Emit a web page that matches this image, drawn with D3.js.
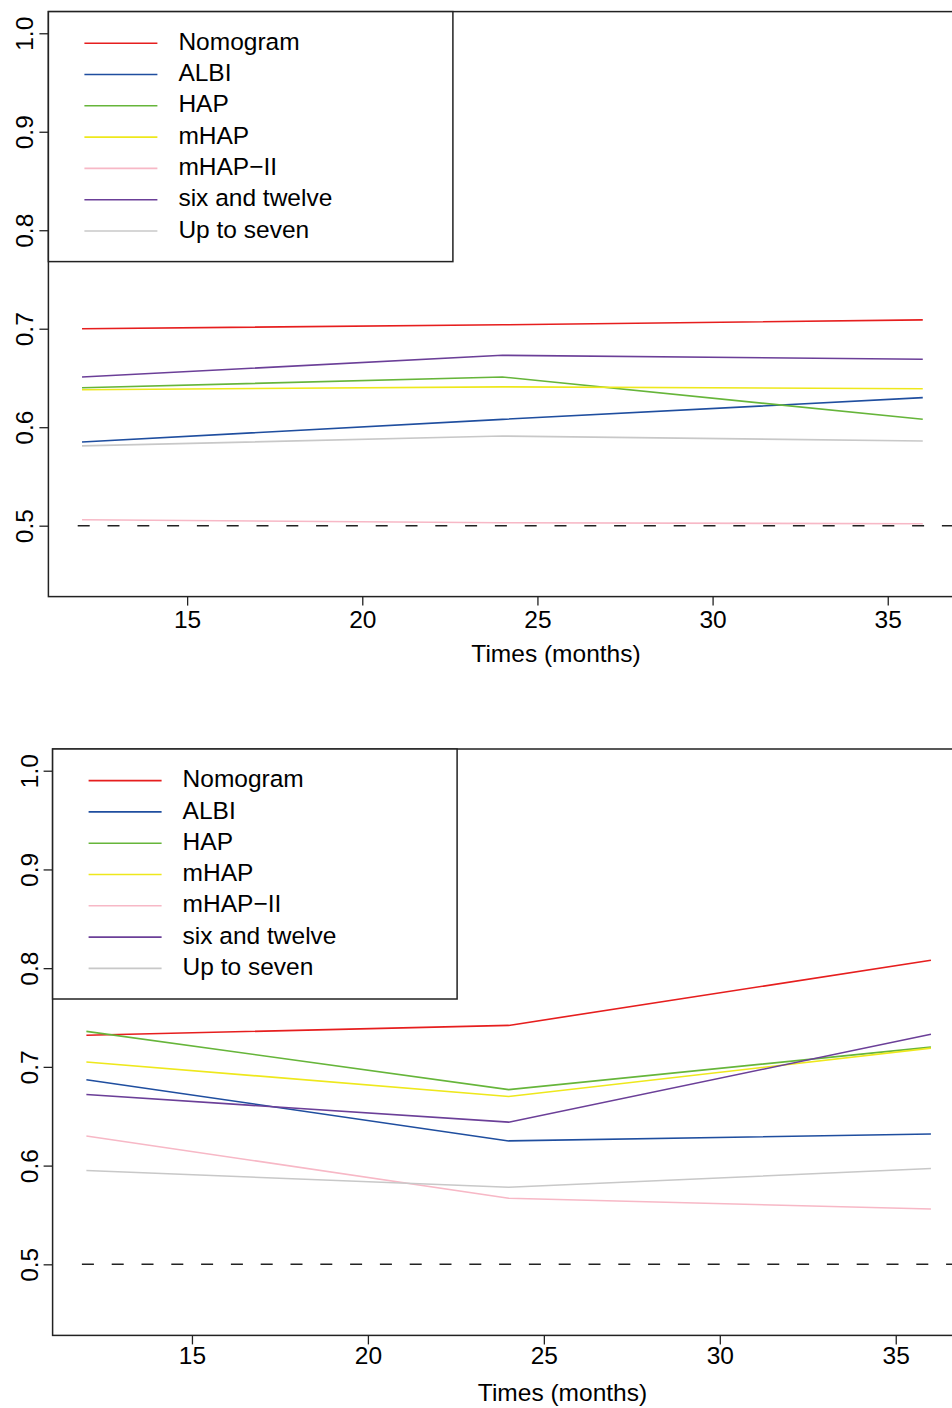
<!DOCTYPE html>
<html>
<head>
<meta charset="utf-8">
<script src="https://cdn.jsdelivr.net/npm/d3@7"></script>
<style>
  body { margin: 0; background: #fff; }
  svg { display: block; font-family: "Liberation Sans", Arial, sans-serif; }
</style>
</head>
<body>
<div id="chart"></div>
<script>
// time points (months)
const times = [12, 24, 36];
const xTicks = [15, 20, 25, 30, 35];
const yTicks = [0.5, 0.6, 0.7, 0.8, 0.9, 1.0];

const modelNames = ["Nomogram", "ALBI", "HAP", "mHAP", "mHAP\u2212II", "six and twelve", "Up to seven"];
const modelColors = ["#E61E1E", "#1F4E9F", "#66B53A", "#EEE81C", "#F7B8C6", "#6B3F98", "#C8C8C8"];

// time-dependent AUC, upper panel (same order as modelNames)
const aucTop = [
  [0.700, 0.704, 0.709],
  [0.585, 0.608, 0.630],
  [0.640, 0.651, 0.608],
  [0.638, 0.641, 0.639],
  [0.506, 0.503, 0.502],
  [0.651, 0.673, 0.669],
  [0.581, 0.591, 0.586],
];

// time-dependent AUC, lower panel
const aucBottom = [
  [0.732, 0.742, 0.808],
  [0.687, 0.625, 0.632],
  [0.736, 0.677, 0.720],
  [0.705, 0.670, 0.719],
  [0.630, 0.567, 0.556],
  [0.672, 0.644, 0.733],
  [0.595, 0.578, 0.597],
];

const width = 952;
const height = 1408;
const fontSize = 24.5;

const svg = d3
  .select("#chart")
  .append("svg")
  .attr("width", width)
  .attr("height", height);

svg.append("rect").attr("width", width).attr("height", height).attr("fill", "#fff");

function drawPanel(values, box) {
  const xScale = d3
    .scaleLinear()
    .domain([11.04, 40.02])
    .range([box.left, box.right]);

  const yScale = d3
    .scaleLinear()
    .domain([0.428, 1.022])
    .range([box.bottom, box.top]);

  const g = svg.append("g");

  // reference line at 0.5
  g.append("line")
    .attr("x1", xScale.range()[0] + 29.3)
    .attr("x2", xScale.range()[1])
    .attr("y1", yScale(0.5))
    .attr("y2", yScale(0.5))
    .attr("stroke", "#222")
    .attr("stroke-width", 1.5)
    .attr("stroke-dasharray", "12,17.8");

  // curves
  const line = d3
    .line()
    .x((d, i) => xScale(times[i]))
    .y((d) => yScale(d));

  values.forEach((series, k) => {
    g.append("path")
      .datum(series)
      .attr("fill", "none")
      .attr("stroke", modelColors[k])
      .attr("stroke-width", 1.6)
      .attr("d", line);
  });

  // Axis

  const xAxis = g
    .append("g")
    .attr("transform", `translate(0, ${box.bottom})`)
    .call(
      d3.axisBottom(xScale).tickValues(xTicks).tickSize(9).tickPadding(box.pad)
    );
  xAxis.select(".domain").remove();
  xAxis.selectAll("line").attr("stroke", "#222").attr("stroke-width", 1.3);
  xAxis
    .selectAll("text")
    .attr("font-size", fontSize)
    .attr("font-family", "Liberation Sans, Arial, sans-serif")
    .attr("fill", "#000");

  const yAxis = g
    .append("g")
    .attr("transform", `translate(${box.left}, 0)`)
    .call(
      d3
        .axisLeft(yScale)
        .tickValues(yTicks)
        .tickSize(9)
        .tickFormat(d3.format(".1f"))
    );
  yAxis.select(".domain").remove();
  yAxis.selectAll("line").attr("stroke", "#222").attr("stroke-width", 1.3);
  yAxis
    .selectAll("text")
    .attr("x", 0)
    .attr("y", -15)
    .attr("dy", null)
    .attr("transform", "rotate(-90)")
    .attr("text-anchor", "middle")
    .attr("font-size", fontSize)
    .attr("font-family", "Liberation Sans, Arial, sans-serif")
    .attr("fill", "#000");

  // plot box
  g.append("rect")
    .attr("x", box.left)
    .attr("y", box.top)
    .attr("width", box.right - box.left)
    .attr("height", box.bottom - box.top)
    .attr("fill", "none")
    .attr("stroke", "#222")
    .attr("stroke-width", 1.5);

  g.append("text")
    .attr("x", (box.left + box.right) / 2)
    .attr("y", box.bottom + box.titleGap)
    .attr("text-anchor", "middle")
    .attr("font-size", fontSize)
    .attr("fill", "#000")
    .text("Times (months)");

  // Legend

  const legend = g
    .append("g")
    .attr("transform", `translate(${box.left}, ${box.top})`);

  legend
    .append("rect")
    .attr("width", 404.5)
    .attr("height", 250)
    .attr("fill", "#fff")
    .attr("stroke", "#222")
    .attr("stroke-width", 1.5);

  const rows = legend
    .selectAll(".row")
    .data(modelNames)
    .enter()
    .append("g")
    .attr("transform", (d, i) => `translate(0, ${31.6 + i * 31.3})`);

  rows
    .append("line")
    .attr("x1", 36)
    .attr("x2", 109)
    .attr("stroke", (d, i) => modelColors[i])
    .attr("stroke-width", 1.6);

  rows
    .append("text")
    .attr("x", 130)
    .attr("y", 6.6)
    .attr("font-size", fontSize)
    .attr("fill", "#000")
    .text((d) => d);
}

drawPanel(aucTop, { left: 48.4, right: 1063.6, top: 11.6, bottom: 596.6, pad: 5, titleGap: 65 });
drawPanel(aucBottom, { left: 52.6, right: 1072.4, top: 749, bottom: 1335.4, pad: 2, titleGap: 66 });
</script>
</body>
</html>
